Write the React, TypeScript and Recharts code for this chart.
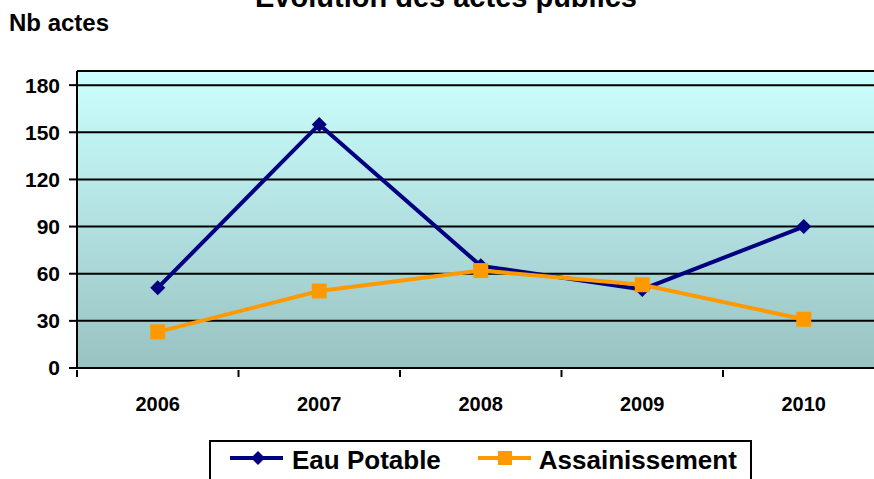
import { LineChart, Line, XAxis, YAxis, CartesianGrid } from "recharts";

const years = ["2006", "2007", "2008", "2009", "2010"];
const eauPotable = [51, 155, 65, 50, 90];
const assainissement = [23, 49, 62, 53, 31];
const yTicks = [0, 30, 60, 90, 120, 150, 180];

const data = years.map((year, i) => ({
  year,
  eau: eauPotable[i],
  assain: assainissement[i],
}));

const FONT = "'Liberation Sans', Arial, sans-serif";
const BLUE = "#000080";
const ORANGE = "#FF9900";
const BAND = 161.5;

const Diamond = (props: any) => {
  const { cx, cy } = props;
  if (cx == null || cy == null) return null;
  const r = 7.5;
  return (
    <path
      d={`M${cx},${cy - r} L${cx + r},${cy} L${cx},${cy + r} L${cx - r},${cy} Z`}
      fill={BLUE}
    />
  );
};

const Square = (props: any) => {
  const { cx, cy } = props;
  if (cx == null || cy == null) return null;
  return <rect x={cx - 7.5} y={cy - 7.5} width={15} height={15} fill={ORANGE} />;
};

const XTick = (props: any) => {
  const { x, y, payload } = props;
  return (
    <g>
      <line x1={x - BAND / 2} y1={y - 8} x2={x - BAND / 2} y2={y - 1} stroke="#000" strokeWidth={2} />
      <text x={x} y={y + 33} textAnchor="middle" fontFamily={FONT} fontWeight="bold" fontSize={20} fill="#000">
        {payload.value}
      </text>
    </g>
  );
};

const LegendBox = () => (
  <div
    style={{
      position: "absolute",
      left: 209,
      top: 440,
      width: 543,
      height: 60,
      border: "2px solid #000",
      boxSizing: "border-box",
      display: "flex",
      alignItems: "flex-start",
      paddingTop: 3,
      fontFamily: FONT,
      fontWeight: "bold",
      fontSize: 26,
      lineHeight: "30px",
      background: "#fff",
    }}
  >
    <svg width={53} height={30} style={{ marginLeft: 19 }}>
      <line x1={0} y1={13} x2={53} y2={13} stroke={BLUE} strokeWidth={4} />
      <path d="M28,6 L35,13 L28,20 L21,13 Z" fill={BLUE} />
    </svg>
    <span style={{ marginLeft: 9 }}>Eau Potable</span>
    <svg width={53} height={30} style={{ marginLeft: 37 }}>
      <line x1={0} y1={13} x2={53} y2={13} stroke={ORANGE} strokeWidth={4} />
      <rect x={20} y={6} width={14} height={14} fill={ORANGE} />
    </svg>
    <span style={{ marginLeft: 8 }}>Assainissement</span>
  </div>
);

export default function App() {
  return (
    <div
      style={{
        position: "fixed",
        left: 0,
        top: 0,
        width: 874,
        height: 479,
        overflow: "hidden",
        background: "#fff",
      }}
    >
      <LineChart
        width={900}
        height={479}
        data={data}
        margin={{ top: 71, right: 15.5, bottom: 81, left: 0 }}
        style={{ position: "absolute", left: 0, top: 0 }}
      >
        <defs>
          <linearGradient id="plotBg" x1="0" y1="0" x2="0" y2="1">
            <stop offset="0%" stopColor="#CCFFFF" />
            <stop offset="100%" stopColor="#99C2C2" />
          </linearGradient>
        </defs>
        <CartesianGrid
          vertical={false}
          stroke="#000"
          strokeWidth={2}
          fill="url(#plotBg)"
          fillOpacity={1}
        />
        <XAxis
          dataKey="year"
          padding={{ left: BAND / 2, right: BAND / 2 }}
          axisLine={{ stroke: "#000", strokeWidth: 2 }}
          tickLine={false}
          tickSize={8}
          tick={<XTick />}
          interval={0}
          height={30}
        />
        <YAxis
          domain={[0, 189]}
          ticks={yTicks}
          width={77}
          axisLine={{ stroke: "#000", strokeWidth: 2 }}
          tickLine={{ stroke: "#000", strokeWidth: 2 }}
          tickSize={8}
          tickMargin={9}
          tick={{ fill: "#000", fontFamily: FONT, fontWeight: "bold", fontSize: 21 }}
        />
        <Line
          dataKey="eau"
          name="Eau Potable"
          stroke={BLUE}
          strokeWidth={4}
          dot={<Diamond />}
          activeDot={false}
          isAnimationActive={false}
        />
        <Line
          dataKey="assain"
          name="Assainissement"
          stroke={ORANGE}
          strokeWidth={4}
          dot={<Square />}
          activeDot={false}
          isAnimationActive={false}
        />
      </LineChart>
      <div
        style={{
          position: "absolute",
          left: 0,
          width: 892,
          top: -19,
          textAlign: "center",
          fontFamily: FONT,
          fontWeight: "bold",
          fontSize: 29,
          lineHeight: "32px",
        }}
      >
        Evolution des actes publics
      </div>
      <div
        style={{
          position: "absolute",
          left: 9,
          top: 9,
          fontFamily: FONT,
          fontWeight: "bold",
          fontSize: 24,
          lineHeight: "28px",
        }}
      >
        Nb actes
      </div>
      <LegendBox />
    </div>
  );
}
